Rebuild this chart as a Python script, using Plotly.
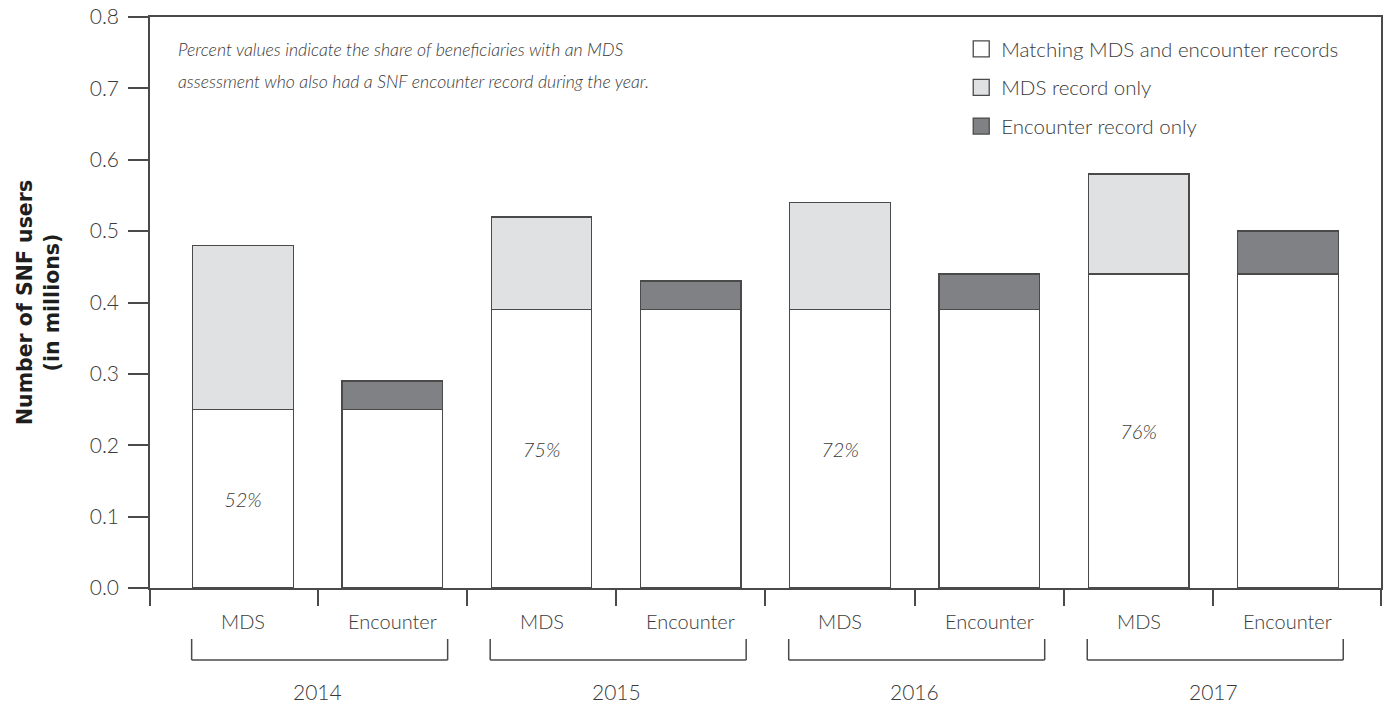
import plotly.graph_objects as go

# ---- data ----
years = ["2014", "2015", "2016", "2017"]
record_types = ["MDS", "Encounter"]
matching = [0.25, 0.25, 0.39, 0.39, 0.39, 0.39, 0.44, 0.44]
mds_only = [0.23, None, 0.13, None, 0.15, None, 0.14, None]
encounter_only = [None, 0.04, None, 0.04, None, 0.05, None, 0.06]
pct_labels = ["52%", "", "75%", "", "72%", "", "76%", ""]
y_ticks = [0.0, 0.1, 0.2, 0.3, 0.4, 0.5, 0.6, 0.7, 0.8]

FONT = "Lato Light, Lato, sans-serif"
BOLD = "DejaVu Sans, sans-serif"
TXT = "#3a3a3a"
LINE = "#4a4a4a"
W_BAR = 0.674
X_LO, X_HI = -0.623, 7.624

n = len(matching)
xs = list(range(n))
labels = [record_types[i % 2] for i in range(n)]

fig = go.Figure()
fig.add_trace(go.Bar(x=xs, y=matching, width=W_BAR, name="Matching MDS and encounter records",
                     marker=dict(color="#ffffff", line=dict(color=LINE, width=1.3)),
                     text=pct_labels, textposition="inside", insidetextanchor="middle", textangle=0,
                     textfont=dict(family=FONT, size=20, color=TXT, style="italic", weight=300),
                     showlegend=False, hoverinfo="skip"))
fig.add_trace(go.Bar(x=xs, y=mds_only, width=W_BAR, name="MDS record only",
                     marker=dict(color="#e0e1e2", line=dict(color=LINE, width=1.3)),
                     showlegend=False, hoverinfo="skip"))
fig.add_trace(go.Bar(x=xs, y=encounter_only, width=W_BAR, name="Encounter record only",
                     marker=dict(color="#808184", line=dict(color=LINE, width=1.3)),
                     showlegend=False, hoverinfo="skip"))

# legend entries
for nm, col in [("Matching MDS and encounter records", "#ffffff"),
                ("MDS record only", "#e0e1e2"),
                ("Encounter record only", "#808184")]:
    fig.add_trace(go.Scatter(x=[None], y=[None], mode="markers", name=nm, legendgroup=nm,
                             marker=dict(symbol="square", size=16, color=col,
                                         line=dict(color=LINE, width=1.3))))

fig.update_layout(
    barmode="stack",
    width=1384, height=704,
    margin=dict(l=150, r=3, t=17, b=116, autoexpand=False),
    paper_bgcolor="white", plot_bgcolor="white",
    font=dict(family=FONT, size=19, color=TXT, weight=300),
    legend=dict(x=0.659, xanchor="left", y=0.979, yanchor="top",
                font=dict(family=FONT, size=20.5, color=TXT, weight=300),
                tracegroupgap=9, bgcolor="rgba(0,0,0,0)"),
)

bounds = [X_LO] + [i + 0.5 for i in range(n - 1)] + [X_HI]
fig.update_xaxes(range=[X_LO, X_HI], tickmode="array", tickvals=bounds, showticklabels=False,
                 ticks="outside", ticklen=16, tickwidth=1.5, tickcolor=LINE,
                 showline=True, linecolor=LINE, linewidth=1.5, mirror=True,
                 showgrid=False, zeroline=False, automargin=False)
fig.update_yaxes(range=[0, 0.8], tickmode="array", tickvals=y_ticks, tickformat=".1f",
                 ticks="outside", ticklen=20, tickwidth=1.5, tickcolor=LINE,
                 ticklabelstandoff=5,
                 tickfont=dict(family=FONT, size=21, color=TXT, weight=300),
                 showline=True, linecolor=LINE, linewidth=1.5, mirror=True,
                 showgrid=False, zeroline=False, automargin=False,
                 title=dict(text="Number of SNF users<br>(in millions)", standoff=25,
                            font=dict(family=BOLD, size=20.5, color="#1e1e1e", weight="bold")))

# category labels
for i in range(n):
    fig.add_annotation(x=i, xref="x", y=0, yref="paper", yanchor="middle", yshift=-33,
                       text=labels[i], showarrow=False,
                       font=dict(family=FONT, size=20, color=TXT, weight=300))

# year brackets and labels
for k, yr in enumerate(years):
    x0 = 2 * k - 0.344
    x1 = 2 * k + 1.371
    for (a, b, c, d) in [(x0, x0, -51, -72), (x0, x1, -72, -72), (x1, x1, -51, -72)]:
        fig.add_shape(type="line", xref="x", yref="paper", ysizemode="pixel", yanchor=0,
                      x0=a, x1=b, y0=c, y1=d, line=dict(color=LINE, width=1.5))
    fig.add_annotation(x=2 * k + 0.5, xref="x", y=0, yref="paper", yanchor="middle", yshift=-103,
                       text=yr, showarrow=False,
                       font=dict(family=FONT, size=21, color=TXT, weight=300))

# explanatory note
note_lines = ["Percent values indicate the share of beneficiaries with an MDS",
              "assessment who also had a SNF encounter record during the year."]
for j, t in enumerate(note_lines):
    fig.add_annotation(x=0.021, xref="paper", xanchor="left", y=1, yref="paper",
                       yanchor="middle", yshift=-32 - 32 * j, text=t, showarrow=False,
                       font=dict(family=FONT, size=17.7, color=TXT, style="italic", weight=300))

fig.write_html("out.html", config={"displayModeBar": False},
               post_script="document.body.style.margin='0';")
